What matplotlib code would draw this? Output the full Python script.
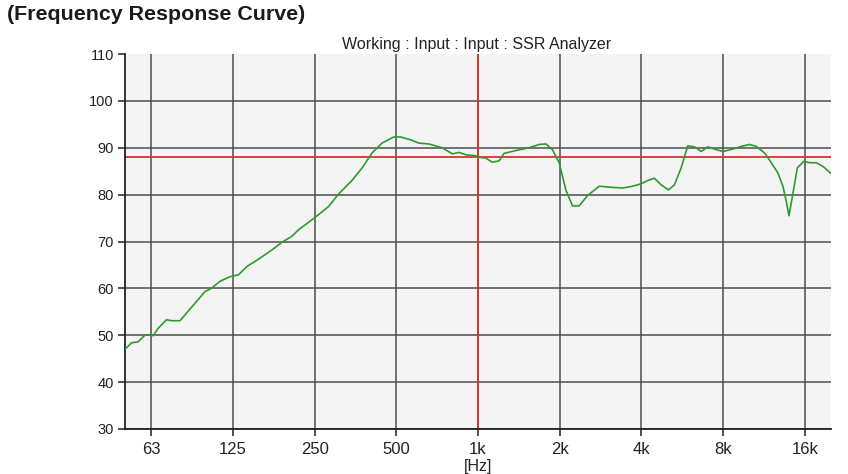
import matplotlib
matplotlib.use("Agg")
import matplotlib.pyplot as plt
import matplotlib.transforms as mtransforms

plt.rcParams['font.family'] = ['Liberation Sans', 'DejaVu Sans']

# ---- data ----
freq_hz = [50, 52.9, 55.9, 59.2, 61.8, 63.5, 66.3, 71.1, 74.2, 79.7, 84.2, 90.5,
           98.5, 104, 112, 122, 131, 141, 155, 174, 189, 206, 218, 244, 258,
           282, 307, 343, 374, 407, 443, 489, 518, 564, 605, 659, 738, 804,
           851, 901, 981, 1000, 1068, 1129, 1196, 1248, 1378, 1543, 1680, 1783,
           1881, 1991, 2108, 2230, 2360, 2533, 2799, 3047, 3411, 3715, 3989,
           4219, 4469, 4730, 5033, 5296, 5607, 5930, 6277, 6647, 7028, 7550,
           7989, 8695, 9339, 10020, 10610, 11380, 12050, 12750, 13300, 13690,
           14000, 14410, 15030, 15870, 16690, 17680, 18700, 19910]
level_db = [47.0, 48.4, 48.6, 50.0, 50.1, 49.9, 51.5, 53.3, 53.1, 53.1, 54.7, 56.8,
            59.3, 60.0, 61.5, 62.5, 62.9, 64.7, 66.2, 68.2, 69.8, 71.1, 72.5, 74.6, 75.7,
            77.5, 80.2, 83.0, 85.7, 88.9, 91.0, 92.3, 92.3, 91.7, 91.0, 90.8, 90.0, 88.7,
            89.0, 88.5, 88.3, 88.0, 87.8, 86.9, 87.2, 88.8, 89.4, 90.0, 90.7, 90.8,
            89.6, 86.8, 81.0, 77.6, 77.6, 79.8, 81.8, 81.6, 81.4, 81.8, 82.3,
            83.0, 83.5, 82.1, 81.0, 82.1, 85.7, 90.4, 90.2, 89.2, 90.2, 89.6,
            89.2, 89.7, 90.3, 90.7, 90.3, 88.9, 86.8, 84.6, 81.8, 78.5,
            75.5, 79.6, 85.7, 87.1, 86.8, 86.8, 86.0, 84.6]

x_ticks = [62.5, 125, 250, 500, 1000, 2000, 4000, 8000, 16000]
x_tick_labels = ["63", "125", "250", "500", "1k", "2k", "4k", "8k", "16k"]
y_ticks = [30, 40, 50, 60, 70, 80, 90, 100, 110]
ref_level = 88
ref_freq = 1000

title = "(Frequency Response Curve)"
subtitle = "Working : Input : Input : SSR Analyzer"
unit_label = "[Hz]"

# ---- figure ----
fig = plt.figure(figsize=(8.48, 4.74), dpi=100)
ax = fig.add_axes([125 / 848, 1 - 429 / 474, (831 - 125) / 848, (429 - 54) / 474])
ax.set_facecolor('#f4f4f4')

ax.set_xscale('log')
ax.set_xlim(50, 20000)
ax.set_ylim(30, 110)

ax.set_xticks(x_ticks)
ax.set_xticklabels(x_tick_labels)
ax.minorticks_off()
ax.set_yticks(y_ticks)
ax.set_yticklabels([str(v) for v in y_ticks])

ax.grid(True, color='#4e4e4e', linewidth=1.1)
ax.set_axisbelow(True)
ax.yaxis.get_gridlines()[-1].set_visible(False)

for s in ['top', 'right']:
    ax.spines[s].set_visible(False)
for s in ['left', 'bottom']:
    ax.spines[s].set_color('#222222')
    ax.spines[s].set_linewidth(1.3)

ax.tick_params(axis='both', direction='out', length=5, width=1.1, color='#222222')
ax.tick_params(axis='x', labelsize=12, pad=4, labelcolor='#222222')
ax.tick_params(axis='y', labelsize=10.5, pad=3, labelcolor='#222222')

ax.axhline(ref_level, color='#e03030', linewidth=1.3, zorder=2)
ax.axvline(ref_freq, color='#e03030', linewidth=1.3, zorder=2)

ax.plot(freq_hz, level_db, color='#2f9a2f', linewidth=1.2, zorder=3)

trans = mtransforms.blended_transform_factory(ax.transData, fig.transFigure)
ax.text(ref_freq, 1 - 466 / 474, unit_label, transform=trans, ha='center', va='center',
        fontsize=11.5, color='#222222')

fig.text(477 / 848, 1 - 44 / 474, subtitle, ha='center', va='center', fontsize=11.5,
         color='#222222')
fig.text(7 / 848, 1 - 14 / 474, title, ha='left', va='center', fontsize=15.4,
         fontweight='bold', color='#1a1a1a')

fig.savefig('out.png', dpi=100)
